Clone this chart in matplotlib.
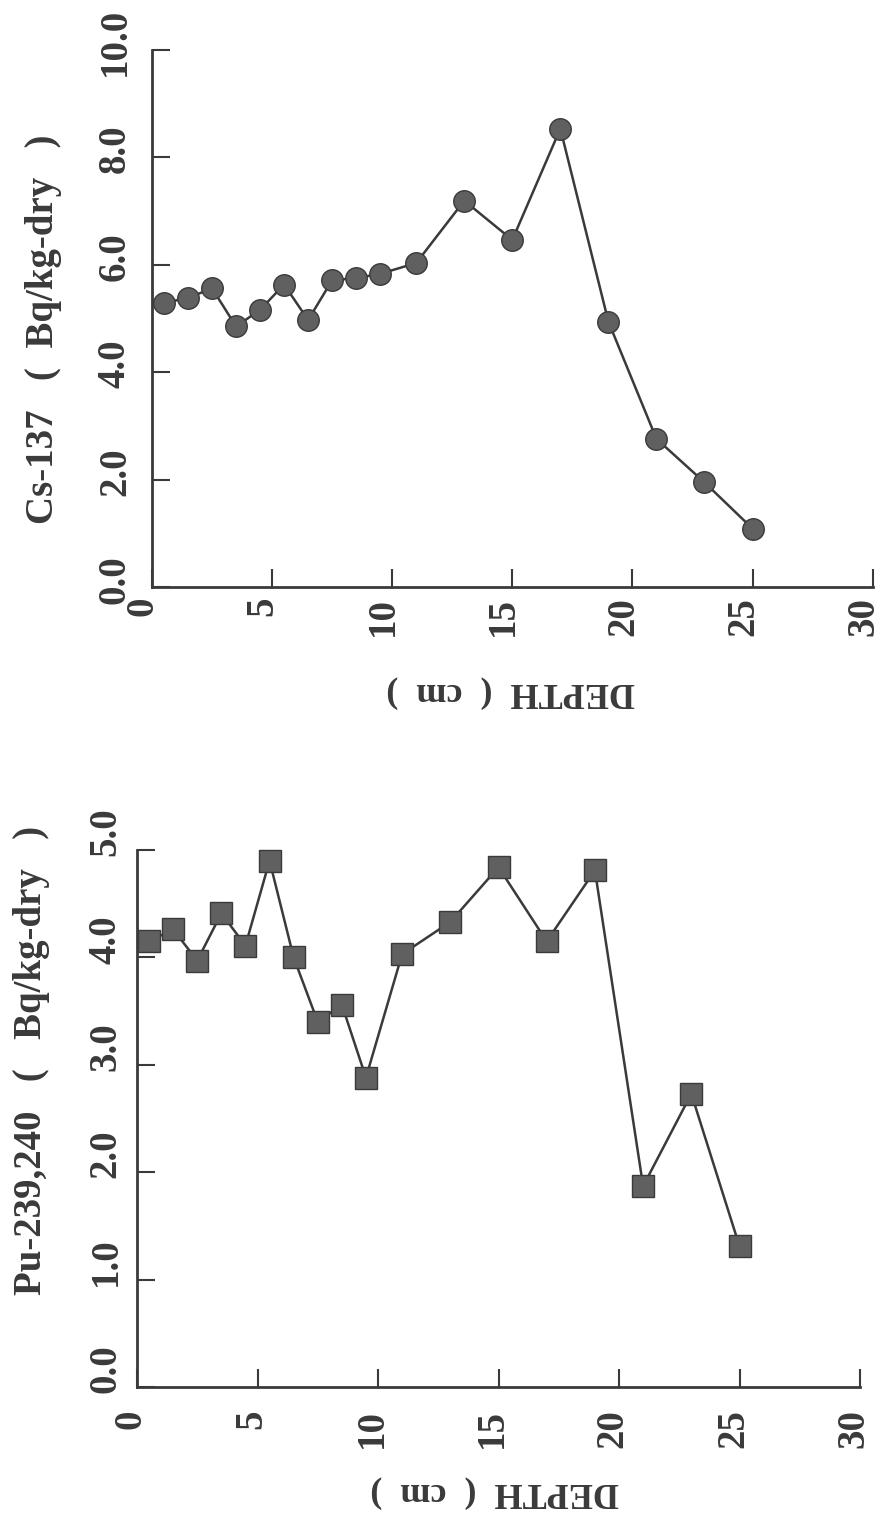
"""
Perfil de Cs-137 y Pu-239,240 frente a la profundidad (figura escaneada, girada).
"""

import matplotlib
matplotlib.use("Agg")
import matplotlib.pyplot as plt
from matplotlib.transforms import ScaledTranslation

# ── Datos ────────────────────────────────────────────────────
depth = [0.5, 1.5, 2.5, 3.5, 4.5, 5.5, 6.5, 7.5, 8.5, 9.5,
         11, 13, 15, 17, 19, 21, 23, 25]
cs137 = [5.29, 5.38, 5.56, 4.85, 5.16, 5.63, 4.97, 5.71, 5.75, 5.83,
         6.03, 7.19, 6.46, 8.53, 4.94, 2.76, 1.95, 1.09]
pu239 = [4.15, 4.26, 3.97, 4.41, 4.11, 4.90, 4.00, 3.40, 3.56, 2.88,
         4.03, 4.33, 4.84, 4.15, 4.81, 1.87, 2.73, 1.31]

x_ticks = [0, 5, 10, 15, 20, 25, 30]
cs_ticks = [0.0, 2.0, 4.0, 6.0, 8.0, 10.0]
pu_ticks = [0.0, 1.0, 2.0, 3.0, 4.0, 5.0]

INK = "#3a3a3a"
FILL = "#606060"
FUENTE = ["Liberation Serif", "DejaVu Serif"]

fig = plt.figure(figsize=(8.81, 15.13), dpi=100)
fig.patch.set_facecolor("#ffffff")


def desplazar(etiquetas, dx_px, dy_px):
    """Mueve un poco las etiquetas (en píxeles) como en el original escaneado."""
    off = ScaledTranslation(dx_px / 100, dy_px / 100, fig.dpi_scale_trans)
    for t in etiquetas:
        t.set_transform(t.get_transform() + off)


def estilo_ejes(ax, yticks, ylabel, xpad, ypad, xdx, ydy, ylab_xy, xlab_xy):
    ax.set_xlim(0, 30)
    ax.set_ylim(yticks[0], yticks[-1])
    ax.spines["top"].set_visible(False)
    ax.spines["right"].set_visible(False)
    for lado in ("left", "bottom"):
        ax.spines[lado].set_color(INK)
        ax.spines[lado].set_linewidth(2.0)
    ax.set_xticks(x_ticks)
    ax.set_xticklabels([str(t) for t in x_ticks], rotation=90,
                       fontsize=28, fontweight="bold", family=FUENTE, color=INK)
    ax.set_yticks(yticks)
    ax.set_yticklabels([f"{t:.1f}" for t in yticks], rotation=90, va="center",
                       fontsize=28, fontweight="bold", family=FUENTE, color=INK)
    ax.tick_params(axis="both", direction="in", length=13, width=1.5, color=INK)
    ax.tick_params(axis="x", pad=xpad)
    ax.tick_params(axis="y", pad=ypad)
    desplazar(ax.get_xticklabels(), xdx, 0)
    desplazar(ax.get_yticklabels(), 0, ydy)

    ax.set_xlabel("DEPTH  (  cm  )", rotation=180, fontsize=26, fontweight="bold",
                  family=FUENTE, color=INK, va="center")
    ax.xaxis.set_label_coords(*xlab_xy)
    ax.set_ylabel(ylabel, fontsize=28, fontweight="bold", family=FUENTE,
                  color=INK, va="center")
    ax.yaxis.set_label_coords(*ylab_xy)


ax1 = fig.add_axes([0.1725, 0.6119, 0.818, 0.3553])
ax1.plot(depth, cs137, color=INK, linewidth=1.8, marker="o", markersize=15.5,
         markerfacecolor=FILL, markeredgecolor=INK, markeredgewidth=1.0,
         clip_on=False, zorder=3)
estilo_ejes(ax1, cs_ticks, "Cs-137   (  Bq/kg-dry   )", xpad=7, ypad=13,
            xdx=-9, ydy=8, ylab_xy=(-0.150, 0.479), xlab_xy=(0.497, -0.196))

ax2 = fig.add_axes([0.1555, 0.0833, 0.8207, 0.3549])
ax2.plot(depth, pu239, color=INK, linewidth=1.8, marker="s", markersize=15.5,
         markerfacecolor=FILL, markeredgecolor=INK, markeredgewidth=1.0,
         clip_on=False, zorder=3)
estilo_ejes(ax2, pu_ticks, "Pu-239,240   (   Bq/kg-dry   )", xpad=16, ypad=9,
            xdx=-6, ydy=18, ylab_xy=(-0.146, 0.609), xlab_xy=(0.494, -0.196))

fig.savefig("out.png", dpi=100, facecolor="#ffffff")
plt.close(fig)
